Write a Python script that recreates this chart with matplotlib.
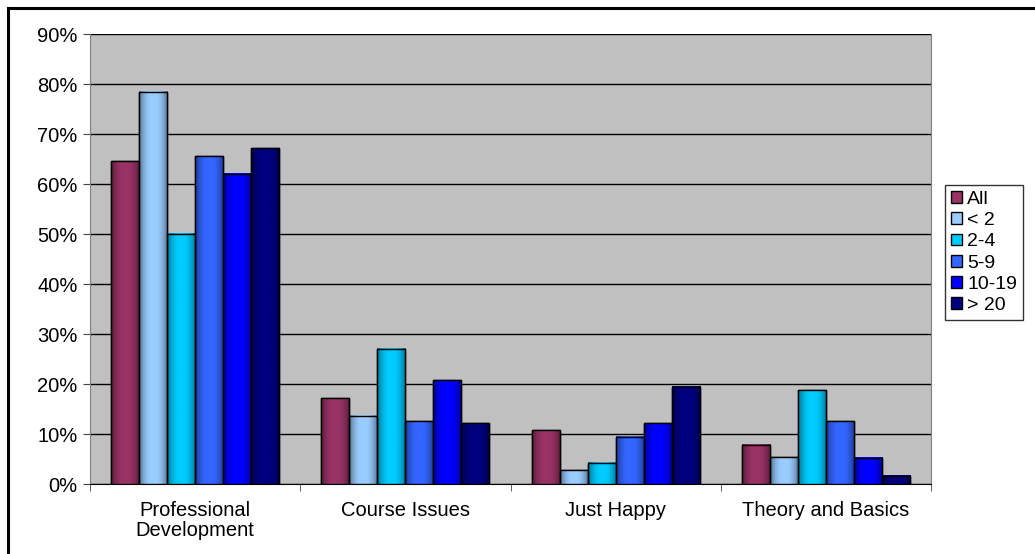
"""
Excel-style clustered bar chart -- reasons by years of experience.
"""
import numpy as np
import matplotlib
matplotlib.use("Agg")
import matplotlib.pyplot as plt
from matplotlib.colors import to_rgb
from matplotlib.patches import Rectangle
from matplotlib.lines import Line2D

plt.rcParams["font.family"] = ["Liberation Sans", "DejaVu Sans"]

categories = ["Professional\nDevelopment", "Course Issues", "Just Happy", "Theory and Basics"]
groups = ["All", "< 2", "2-4", "5-9", "10-19", "> 20"]
colors = ["#993366", "#99CCFF", "#00CCFF", "#3366FF", "#0000FF", "#000080"]

# percent values per group, in category order
all_vals    = [64.6, 17.2, 10.8, 7.9]
lt2_vals    = [78.5, 13.7, 2.8, 5.4]
y2_4_vals   = [50.1, 27.1, 4.3, 18.8]
y5_9_vals   = [65.6, 12.6, 9.5, 12.6]
y10_19_vals = [62.1, 20.8, 12.2, 5.3]
gt20_vals   = [67.2, 12.2, 19.5, 1.7]
series = [all_vals, lt2_vals, y2_4_vals, y5_9_vals, y10_19_vals, gt20_vals]

FS = 14.5

fig = plt.figure(figsize=(10.35, 5.54), dpi=100)
ax = fig.add_axes([90 / 1035, 1 - 484 / 554, 841 / 1035, 450 / 554])
ax.set_facecolor("#C0C0C0")

# outer chart border (only top and left survive the crop)
fig.add_artist(Line2D([8 / 1035, 8 / 1035], [0, 1 - 8 / 554], transform=fig.transFigure,
                      color="black", linewidth=2.2, solid_capstyle="projecting"))
fig.add_artist(Line2D([8 / 1035, 1], [1 - 8 / 554, 1 - 8 / 554], transform=fig.transFigure,
                      color="black", linewidth=2.2, solid_capstyle="projecting"))

x = np.arange(len(categories))
width = 0.8 / len(groups)

# cylinder-like shading profile across a bar
prof_x = np.linspace(0, 1, 64)
shade = 0.45 + 0.55 * np.clip(np.sin(np.pi * prof_x) ** 0.6 * 1.05, 0, 1)

handles = []
for i, (name, vals, col) in enumerate(zip(groups, series, colors)):
    pos = x - 0.4 + width * (i + 0.5)
    bars = ax.bar(pos, vals, width, color=col, edgecolor="black",
                  linewidth=1.0, label=name, zorder=3)
    rgb = np.array(to_rgb(col))
    grad = (shade[:, None] * rgb[None, :])[None, :, :]
    for b in bars:
        ax.imshow(grad, extent=(b.get_x(), b.get_x() + b.get_width(), 0, b.get_height()),
                  aspect="auto", zorder=3.5, interpolation="bilinear")
        ax.add_patch(Rectangle((b.get_x(), 0), b.get_width(), b.get_height(),
                               fill=False, edgecolor="black", linewidth=1.0, zorder=4))
    handles.append(bars)

ax.set_aspect("auto")
ax.set_xlim(-0.5, len(categories) - 0.5)
ax.set_ylim(0, 90)
ax.set_yticks(np.arange(0, 91, 10))
ax.set_yticklabels([f"{v}%" for v in range(0, 91, 10)], fontsize=FS)
ax.yaxis.grid(True, color="black", linewidth=1.0, zorder=1)
ax.set_axisbelow(True)

ax.set_xticks(x)
ax.set_xticklabels(categories, fontsize=FS, linespacing=1.1)
ax.tick_params(axis="x", length=0, pad=12)
ax.set_xticks(np.arange(-0.5, len(categories), 1), minor=True)
ax.tick_params(axis="x", which="minor", length=5, direction="out", color="#444444")
ax.tick_params(axis="y", length=5, direction="out", color="#444444", pad=4)

ax.spines["top"].set_visible(False)
ax.spines["right"].set_color("#808080")
ax.spines["left"].set_color("#808080")
ax.spines["bottom"].set_color("black")

leg = fig.legend(handles, groups, loc="upper left",
                 bbox_to_anchor=(945 / 1035, 1 - 185 / 554), fontsize=14,
                 frameon=True, fancybox=False, edgecolor="black",
                 handlelength=0.55, handleheight=0.55, handletextpad=0.3,
                 labelspacing=0.22, borderpad=0.3, borderaxespad=0)
leg.get_frame().set_linewidth(1.0)

fig.savefig("out.png", dpi=100)
